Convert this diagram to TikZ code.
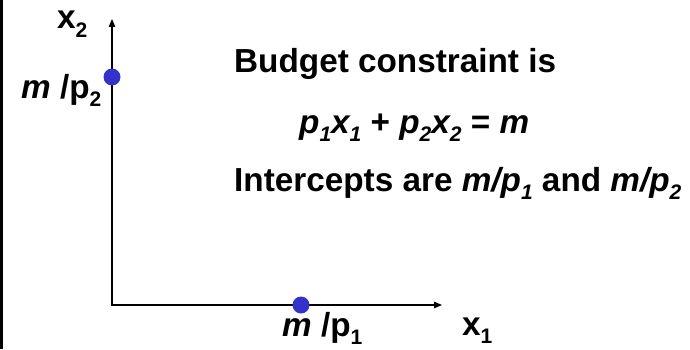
\documentclass[tikz,border=0pt]{standalone}
\usepackage{fontspec}
\setmainfont{Liberation Sans}
\usetikzlibrary{arrows.meta}
\definecolor{dotblue}{RGB}{51,51,204}
\newcommand\mysub[1]{\raisebox{-0.26em}{\fontsize{21}{21}\selectfont #1}}
\begin{document}
\begin{tikzpicture}[x=1pt,y=1pt,
  lbl/.style={anchor=base west, inner sep=0pt, font=\fontsize{33.3}{40}\selectfont\bfseries},
  dotnode/.style={circle, fill=dotblue, inner sep=0pt, minimum size=17pt},
  axisline/.style={line width=1.2pt, {Triangle[length=8pt,width=6.5pt]}-{Triangle[length=8pt,width=6.5pt]}},
  border/.style={line width=2.6pt}]
\useasboundingbox (0,0) rectangle (690,349);
% left border
\coordinate (bl) at (1.3,0);
\coordinate (tl) at (1.3,349);
\draw[border] (bl) -- (tl);
% axes
\coordinate (O) at (112,44);
\coordinate (ytip) at (112,330);
\coordinate (xtip) at (442,44);
\draw[axisline] (ytip) -- (O) -- (xtip);
% intercept dots
\node[dotnode] (A) at (112,272) {};
\node[dotnode] (B) at (301,44) {};
% axis labels
\node[lbl] (x2) at (57,320) {x\mysub{2}};
\node[lbl] (mp2) at (21,251) {\itshape m\upshape\ /p\mysub{2}};
\node[lbl] (mp1) at (282,13) {\itshape m\upshape\ /p\mysub{1}};
\node[lbl] (x1) at (462,14) {x\mysub{1}};
% text
\node[lbl] (t1) at (234,277) {Budget constraint is};
\node[lbl] (t2) at (299,216) {\itshape p\mysub{1}x\mysub{1}\upshape{} + \itshape p\mysub{2}x\mysub{2}\upshape{} = \itshape m};
\node[lbl] (t3) at (234,158) {Intercepts are \itshape m/p\mysub{1}\upshape{} and \itshape m/p\mysub{2}};
\end{tikzpicture}
\end{document}
